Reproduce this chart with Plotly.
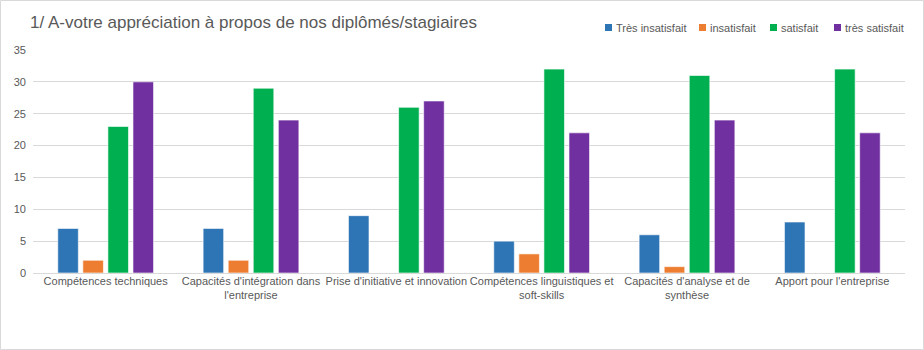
import plotly.graph_objects as go

categories = [
    "Compétences techniques",
    "Capacités d'intégration dans<br>l'entreprise",
    "Prise d'initiative et innovation",
    "Compétences linguistiques et<br>soft-skills",
    "Capacités d'analyse et de<br>synthèse",
    "Apport pour l'entreprise",
]
series_names = ["Très insatisfait", "insatisfait", "satisfait", "très satisfait"]
tres_insatisfait = [7, 7, 9, 5, 6, 8]
insatisfait = [2, 2, 0, 3, 1, 0]
satisfait = [23, 29, 26, 32, 31, 32]
tres_satisfait = [30, 24, 27, 22, 24, 22]
y_ticks = [0, 5, 10, 15, 20, 25, 30, 35]

colors = ["#2E75B6", "#ED7D31", "#00B050", "#7030A0"]
values = [tres_insatisfait, insatisfait, satisfait, tres_satisfait]

fig = go.Figure()
for name, vals, col in zip(series_names, values, colors):
    fig.add_trace(go.Bar(
        x=categories, y=vals, name=name,
        marker=dict(color=col, line=dict(color="rgba(255,255,255,0.6)", width=1)),
    ))

W, H = 924, 350
L, R, T, B = 33, 19, 50, 77
pw, ph = W - L - R, H - T - B


def px_x(px):
    return (px - L) / pw


def px_y(py):
    return (H - B - py) / ph


shapes = [dict(type="rect", xref="paper", yref="paper",
               x0=px_x(0.5), x1=px_x(W - 0.5),
               y0=px_y(H - 0.5), y1=px_y(0.5),
               line=dict(color="#d9d9d9", width=1), fillcolor="rgba(0,0,0,0)", layer="below")]
annotations = []
legend_sq_x = [605, 699, 770, 834]
for name, col, sx in zip(series_names, colors, legend_sq_x):
    shapes.append(dict(type="rect", xref="paper", yref="paper",
                       x0=px_x(sx), x1=px_x(sx + 7), y0=px_y(31), y1=px_y(24),
                       line=dict(width=0), fillcolor=col))
    annotations.append(dict(text=name, xref="paper", yref="paper", x=px_x(sx + 9), y=px_y(27.5),
                            xanchor="left", yanchor="middle", showarrow=False,
                            font=dict(size=11, color="#595959")))

fig.update_layout(
    width=W, height=H,
    margin=dict(l=L, r=R, t=T, b=B),
    paper_bgcolor="white", plot_bgcolor="white",
    font=dict(family="Liberation Sans, Arial, sans-serif", size=11, color="#595959"),
    barmode="group", bargap=0.31, bargroupgap=0.18,
    title=dict(text="1/ A-votre appréciation à propos de nos diplômés/stagiaires",
               x=30 / W, xanchor="left", y=1 - 22 / H, yanchor="middle",
               font=dict(size=17, color="#595959")),
    showlegend=False,
    xaxis=dict(showgrid=False, showline=False, ticks="", tickfont=dict(size=11, color="#595959")),
    yaxis=dict(range=[0, 35], tickvals=y_ticks, showgrid=True, gridcolor="#d9d9d9", gridwidth=1,
               zeroline=True, zerolinecolor="#d9d9d9", zerolinewidth=1, showline=False,
               ticks="", tickfont=dict(size=11, color="#595959"), ticklabelstandoff=6),
    shapes=shapes,
    annotations=annotations,
)

fig.write_html("out.html")
